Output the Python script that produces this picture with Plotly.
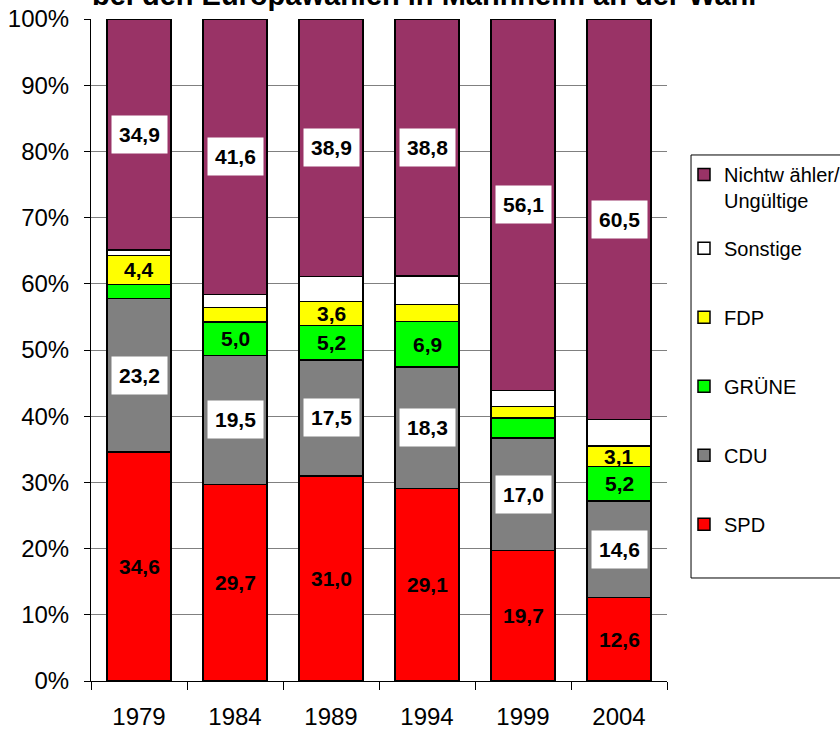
import plotly.graph_objects as go

years = ["1979", "1984", "1989", "1994", "1999", "2004"]
spd = [34.6, 29.7, 31.0, 29.1, 19.7, 12.6]
cdu = [23.2, 19.5, 17.5, 18.3, 17.0, 14.6]
gruene = [2.1, 5.0, 5.2, 6.9, 3.0, 5.2]
fdp = [4.4, 2.2, 3.6, 2.6, 1.8, 3.1]
sonstige = [0.8, 2.0, 3.8, 4.3, 2.4, 4.0]
nichtw = [34.9, 41.6, 38.9, 38.8, 56.1, 60.5]

# which segments carry a value label
show_gruene = [False, True, True, True, False, True]
show_fdp = [True, False, True, False, False, True]

series = [
    ("SPD", spd, "#FF0000"),
    ("CDU", cdu, "#808080"),
    ("GRÜNE", gruene, "#00FF00"),
    ("FDP", fdp, "#FFFF00"),
    ("Sonstige", sonstige, "#FFFFFF"),
    ("Nichtw ähler/<br>Ungültige", nichtw, "#993366"),
]

FONT = "Liberation Sans, Arial, sans-serif"

fig = go.Figure()
n = len(series)
for i, (name, vals, col) in enumerate(series):
    is_top = name.startswith("Nichtw")
    fig.add_trace(go.Bar(
        x=years, y=vals, name=name, legendgroup=str(i), legendrank=n - i,
        legend="legend" if is_top else "legend2", showlegend=True,
        marker=dict(color=col, line=dict(color="black", width=1.5)),
        hoverinfo="skip",
    ))

def fmt(v):
    return f"{v:.1f}".replace(".", ",")

annotations = []
base = [0.0] * len(years)
for name, vals, col in series:
    for j, v in enumerate(vals):
        mid = base[j] + v / 2
        show = True
        if name == "GRÜNE":
            show = show_gruene[j]
        elif name == "FDP":
            show = show_fdp[j]
        elif name == "Sonstige":
            show = False
        boxed = name == "CDU" or name.startswith("Nichtw")
        if show:
            # numeric x = category index on a category axis
            ann = dict(x=j, y=mid, xref="x", yref="y", text=fmt(v),
                       showarrow=False,
                       font=dict(family=FONT, size=21, color="black", weight="bold"))
            if boxed:
                ann.update(bgcolor="white", borderpad=7)
            annotations.append(ann)
        base[j] += v

leg_common = dict(xanchor="left", yanchor="top", borderwidth=0,
                  bgcolor="rgba(0,0,0,0)", valign="top", visible=True,
                  font=dict(family=FONT, size=20, color="black"))

fig.update_layout(
    width=840, height=730,
    showlegend=True,
    margin=dict(l=91, r=173, t=19, b=49, autoexpand=False),
    paper_bgcolor="white", plot_bgcolor="white",
    barmode="stack", bargap=0.333,
    font=dict(family=FONT, size=24, color="black"),
    title=dict(text="<b>bei den Europawahlen in Mannheim an der Wahl</b>",
               x=0.505, xanchor="center", y=0.993, yanchor="bottom",
               yref="container", font=dict(family=FONT, size=29, color="black")),
    xaxis=dict(type="category", showline=True, linecolor="black", linewidth=1,
               ticks="outside", tickson="boundaries", ticklen=8, tickcolor="black",
               showgrid=False, tickfont=dict(size=24), tickangle=0,
               ticklabelstandoff=14, automargin=False),
    yaxis=dict(range=[0, 100], dtick=10, ticksuffix="%", showline=True,
               linecolor="black", linewidth=1, ticks="outside", ticklen=6,
               tickcolor="black", showgrid=True, gridcolor="#808080", gridwidth=1,
               zeroline=False, tickfont=dict(size=24), ticklabelstandoff=10,
               automargin=False),
    legend=dict(x=1.0295, y=0.7945, **leg_common),
    legend2=dict(x=1.0295, y=0.683, traceorder="grouped", tracegroupgap=40,
                 **leg_common),
    shapes=[dict(type="rect", xref="paper", yref="paper",
                 x0=1.0417, x1=1.6, y0=0.1556, y1=0.7946,
                 line=dict(color="black", width=1), fillcolor="rgba(0,0,0,0)",
                 layer="below")],
    annotations=annotations,
)

fig.write_html("out.html", config={"displayModeBar": False},
               post_script="document.body.style.margin='0';")
